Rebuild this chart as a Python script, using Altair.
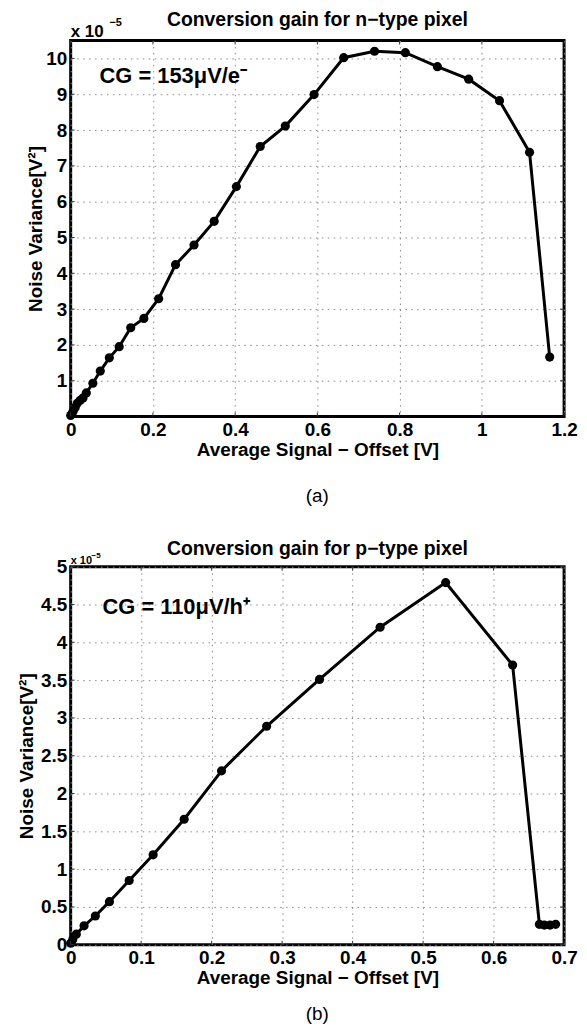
import altair as alt
import pandas as pd

FONT = "Liberation Sans"

# ---- data: n-type pixel (variance in units of 1e-5 V^2) ----
n_x = [0, 0.003, 0.006, 0.011, 0.016, 0.023, 0.030, 0.038, 0.054, 0.072, 0.094,
       0.118, 0.146, 0.178, 0.214, 0.255, 0.300, 0.349, 0.403, 0.461, 0.522,
       0.592, 0.664, 0.739, 0.814, 0.892, 0.968, 1.043, 1.116, 1.165]
n_y = [0.03, 0.08, 0.15, 0.25, 0.37, 0.45, 0.52, 0.66, 0.93, 1.27, 1.64,
       1.95, 2.48, 2.74, 3.29, 4.24, 4.79, 5.45, 6.42, 7.54, 8.11,
       8.99, 10.02, 10.20, 10.16, 9.77, 9.42, 8.82, 7.38, 1.66]

# ---- data: p-type pixel ----
p_x = [0, 0.003, 0.008, 0.019, 0.035, 0.055, 0.083, 0.117, 0.161, 0.214,
       0.278, 0.353, 0.439, 0.532, 0.627, 0.665, 0.672, 0.680, 0.688]
p_y = [0.02, 0.07, 0.14, 0.25, 0.38, 0.57, 0.85, 1.19, 1.66, 2.30,
       2.89, 3.51, 4.20, 4.79, 3.70, 0.27, 0.26, 0.26, 0.27]

n_xticks = [0, 0.2, 0.4, 0.6, 0.8, 1.0, 1.2]
n_yticks = [1, 2, 3, 4, 5, 6, 7, 8, 9, 10]
p_xticks = [0, 0.1, 0.2, 0.3, 0.4, 0.5, 0.6, 0.7]
p_yticks = [0, 0.5, 1, 1.5, 2, 2.5, 3, 3.5, 4, 4.5, 5]

X_TITLE = "Average Signal \u2212 Offset [V]"
Y_TITLE = "Noise Variance[V\u00b2]"


def panel(xs, ys, xdom, ydom, xticks, yticks, ytitle_x, title, title_dy, cg,
          cg_pos, sub, sub_dy, exp_sizes, exp_pos, W, H):
    df = pd.DataFrame({"x": xs, "y": ys, "i": list(range(len(xs)))})
    xsc = alt.Scale(domain=xdom, nice=False, zero=False)
    ysc = alt.Scale(domain=ydom, nice=False, zero=False)
    xax = alt.Axis(values=xticks, format="~r", title=X_TITLE, labelFlush=False,
                   labelOverlap=False, labelPadding=4, titlePadding=1)
    yax = alt.Axis(values=yticks, format="~r", title=Y_TITLE, labelFlush=False,
                   labelOverlap=False, labelPadding=4, titleX=ytitle_x,
                   titleBaseline="middle")
    X = alt.X("x:Q", scale=xsc, axis=xax)
    Y = alt.Y("y:Q", scale=ysc, axis=yax)

    base = alt.Chart(df)
    line = base.mark_line(color="black", strokeWidth=3).encode(
        x=X, y=Y, order="i:Q")
    pts = base.mark_circle(color="black", size=85, opacity=1).encode(x=X, y=Y)

    tx = alt.Chart(pd.DataFrame({"x": xticks}))
    ty = alt.Chart(pd.DataFrame({"y": yticks}))
    tick_b = tx.mark_rule(color="#333", strokeWidth=1).encode(
        x=X, y=alt.value(H), y2=alt.value(H - 4))
    tick_t = tx.mark_rule(color="#333", strokeWidth=1).encode(
        x=X, y=alt.value(0), y2=alt.value(4))
    tick_l = ty.mark_rule(color="#333", strokeWidth=1).encode(
        y=Y, x=alt.value(0), x2=alt.value(4))
    tick_r = ty.mark_rule(color="#333", strokeWidth=1).encode(
        y=Y, x=alt.value(W), x2=alt.value(W - 4))

    one = alt.Chart(pd.DataFrame({"k": [0]}))

    def txt(s, x, y, size, bold=True, align="left"):
        return one.mark_text(font=FONT, fontSize=size,
                             fontWeight="bold" if bold else "normal",
                             align=align, baseline="alphabetic",
                             color="black").encode(
            x=alt.value(x), y=alt.value(y), text=alt.value(s))

    title_txt = txt(title, W / 2, title_dy, 19.5, True, "center")
    cg_txt = txt(cg, cg_pos[0], cg_pos[1], 22)
    sub_txt = txt(sub, W / 2, H + sub_dy, 19, False, "center")
    exp1 = txt("x 10", 0, exp_pos[0], exp_sizes[0])
    exp2 = txt("\u22125", exp_pos[1], exp_pos[2], exp_sizes[1])

    return alt.layer(line, pts, tick_b, tick_t, tick_l, tick_r, title_txt,
                     cg_txt, sub_txt, exp1, exp2).properties(width=W, height=H)


top = panel(n_x, n_y, [0, 1.2], [0, 10.5], n_xticks, n_yticks, -35,
            "Conversion gain for n\u2212type pixel", -15,
            "CG = 153\u03bcV/e\u207b", (29, 43), "(a)", 86,
            (17, 11), (-4, 39, -15), 496, 378)
bottom = panel(p_x, p_y, [0, 0.7], [0, 5], p_xticks, p_yticks, -44,
               "Conversion gain for p\u2212type pixel", -12,
               "CG = 110\u03bcV/h\u207a", (32, 47), "(b)", 76,
               (11, 8), (-3, 21, -9), 496, 380)

chart = alt.vconcat(top, bottom, spacing=29).properties(
    padding={"left": 8, "top": -3, "right": 0, "bottom": 0}
).configure_view(
    stroke="black", strokeWidth=3
).configure_axis(
    labelFont=FONT, labelFontSize=19, labelFontWeight="bold", labelColor="black",
    titleFont=FONT, titleFontSize=19, titleFontWeight="bold", titleColor="black",
    domain=False, ticks=False, tickSize=0, labelOverlap=False,
    grid=True, gridColor="#8a8a8a", gridDash=[1.5, 4.5], gridWidth=1
)

chart.save("out.html", embed_options={"renderer": "svg", "actions": False})
